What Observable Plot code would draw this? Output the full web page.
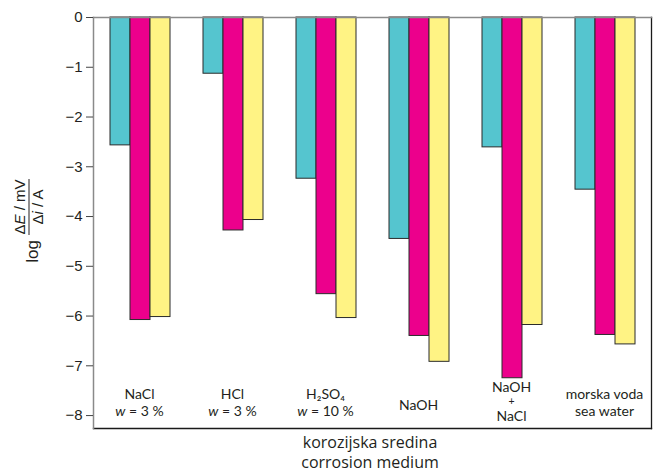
<!DOCTYPE html>
<html>
<head>
<meta charset="utf-8">
<script src="https://cdn.jsdelivr.net/npm/d3@7"></script>
<script src="https://cdn.jsdelivr.net/npm/@observablehq/plot@0.6"></script>
<style>
  body { margin: 0; background: #fff; }
</style>
</head>
<body>
<div id="chart"></div>
<script>
// Corrosion media (one group of bars each)
const media = ["NaCl", "HCl", "H2SO4", "NaOH", "NaOH+NaCl", "seawater"];

// Three samples measured in every medium
const samples = ["A", "B", "C"];
const sampleColors = ["#55c5cf", "#ec008c", "#fff384"];

// log(ΔE/mV / Δi/A) per medium, one array per sample
const valuesA = [-2.57, -1.13, -3.24, -4.45, -2.61, -3.46];
const valuesB = [-6.08, -4.28, -5.56, -6.40, -7.25, -6.38];
const valuesC = [-6.02, -4.07, -6.04, -6.92, -6.18, -6.57];

const yTicks = [0, -1, -2, -3, -4, -5, -6, -7, -8];
const yDomain = [-8.26, 0];

// Group labels under the bars: each line is a list of [text, style] runs
const mediumLabels = {
  "NaCl": [[["NaCl"]], [["w", "i"], [" = 3 %"]]],
  "HCl": [[["HCl"]], [["w", "i"], [" = 3 %"]]],
  "H2SO4": [[["H₂SO₄"]], [["w", "i"], [" = 10 %"]]],
  "NaOH": [[["NaOH"]]],
  "NaOH+NaCl": [[["NaOH"]], [["+", "small"]], [["NaCl"]]],
  "seawater": [[["morska voda"]], [["sea water"]]]
};
// baselines (px above the frame bottom) for 1, 2 or 3 lines
const lineOffsets = {1: [-18], 2: [-29, -12], 3: [-36, -23, -7]};

const rows = media.flatMap((m, i) => [
  {medium: m, sample: "A", value: valuesA[i]},
  {medium: m, sample: "B", value: valuesB[i]},
  {medium: m, sample: "C", value: valuesC[i]}
]);

const W = 655, H = 474;
const mL = 93, mR = 4, mT = 17, mB = 46;

const chart = Plot.plot({
  width: W,
  height: H,
  marginLeft: mL,
  marginRight: mR,
  marginTop: mT,
  marginBottom: mB,
  style: {
    fontFamily: "'Liberation Sans', Arial, sans-serif",
    fontSize: "15px",
    color: "#231f20",
    background: "#fff"
  },
  fx: {domain: media, padding: 0, axis: null},
  x: {domain: samples, paddingInner: 0, paddingOuter: 0.75, axis: null},
  y: {domain: yDomain},
  color: {domain: samples, range: sampleColors},
  marks: [
    Plot.barY(rows, {
      fx: "medium",
      x: "sample",
      y: "value",
      fill: "sample",
      stroke: "#2b2b2b",
      strokeWidth: 1
    }),
    Plot.frame({facet: "super", anchor: "bottom", stroke: "#1a1a1a", strokeWidth: 1.3}),
    Plot.frame({facet: "super", anchor: "right", stroke: "#1a1a1a", strokeWidth: 1.3}),
    Plot.frame({facet: "super", anchor: "top", stroke: "#8a8a8a", strokeWidth: 1.5}),
    Plot.frame({facet: "super", anchor: "left", stroke: "#8a8a8a", strokeWidth: 1.5}),
    Plot.axisY({
      ticks: yTicks,
      tickSize: 7,
      tickPadding: 4,
      stroke: "#444",
      label: null
    })
  ]
});

document.getElementById("chart").appendChild(chart);

const svg = d3.select(chart);
const ink = "#231f20";

// Group labels positioned from the facet scale
let fxScale;
try { fxScale = chart.scale("fx"); } catch (e) { fxScale = null; }
const bandStart = (m) => fxScale && fxScale.apply
  ? fxScale.apply(m)
  : d3.scaleBand(media, [mL, W - mR])(m);
const bandWidth = fxScale && fxScale.bandwidth ? fxScale.bandwidth : (W - mL - mR) / media.length;
const frameBottom = H - mB;

const labelLayer = svg.append("g")
  .attr("font-family", "Lato, 'Open Sans', sans-serif")
  .attr("font-size", 14)
  .attr("fill", ink)
  .attr("text-anchor", "middle");

media.forEach((m) => {
  const lines = mediumLabels[m];
  const offs = lineOffsets[lines.length];
  const cx = bandStart(m) + bandWidth / 2;
  lines.forEach((runs, k) => {
    const t = labelLayer.append("text")
      .attr("x", cx)
      .attr("y", frameBottom + offs[k]);
    runs.forEach(([txt, kind]) => {
      const sp = t.append("tspan").text(txt);
      if (kind === "i") sp.attr("font-style", "italic");
      if (kind === "small") t.attr("font-size", 10.5);
    });
  });
});

// y-axis title: log (ΔE / mV) / (Δi / A), set vertically
const yTitle = svg.append("g")
  .attr("transform", "translate(29,207) rotate(-90)")
  .attr("font-family", "'Liberation Sans', Arial, sans-serif")
  .attr("fill", ink);
yTitle.append("line")
  .attr("x1", -28).attr("x2", 28)
  .attr("stroke", ink).attr("stroke-width", 1);
const num = yTitle.append("text").attr("text-anchor", "middle").attr("y", -4).attr("font-size", 15);
num.append("tspan").text("Δ");
num.append("tspan").attr("font-style", "italic").text("E");
num.append("tspan").text(" / mV");
const den = yTitle.append("text").attr("text-anchor", "middle").attr("y", 14).attr("font-size", 15);
den.append("tspan").text("Δ");
den.append("tspan").attr("font-style", "italic").text("i");
den.append("tspan").text(" / A");
yTitle.append("text")
  .attr("text-anchor", "end")
  .attr("x", -33)
  .attr("y", 9)
  .attr("font-size", 17)
  .text("log");

// x-axis title, two languages
const xTitle = svg.append("text")
  .attr("text-anchor", "middle")
  .attr("font-family", "'Open Sans', sans-serif")
  .attr("font-size", 16)
  .attr("fill", ink);
xTitle.append("tspan").attr("x", 370).attr("y", 448).text("korozijska sredina");
xTitle.append("tspan").attr("x", 370).attr("y", 468).text("corrosion medium");
</script>
</body>
</html>
